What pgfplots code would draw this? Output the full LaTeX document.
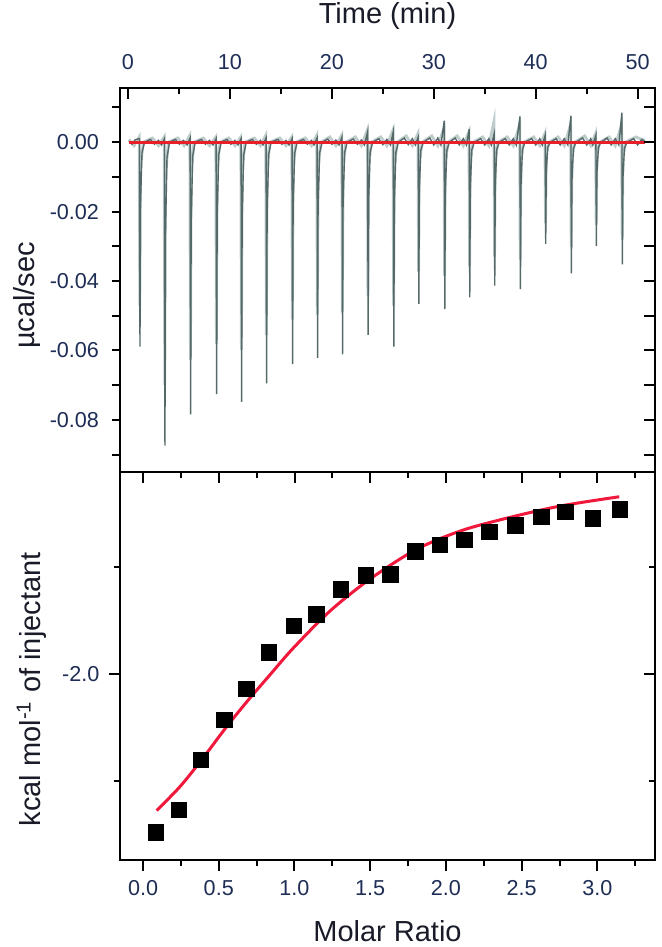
\documentclass[border=0pt]{standalone}
\usepackage{fontspec}
\setmainfont{Liberation Sans}
\usepackage{pgfplots}
\pgfplotsset{compat=1.18}
\definecolor{tickcol}{RGB}{30,45,85}
\definecolor{labcol}{RGB}{25,28,40}
\definecolor{darktrace}{RGB}{85,105,105}
\definecolor{lighttrace}{RGB}{190,204,204}
\definecolor{redbase}{RGB}{232,30,40}
\definecolor{fitred}{RGB}{240,25,60}
\pgfplotsset{
  common/.style={
    width=267.5pt, scale only axis,
    scaled ticks=false,
    axis line style={line width=1pt, black},
    every tick/.style={line width=1pt, black},
    tick label style={font=\fontsize{10.8}{12}\selectfont, color=tickcol},
    label style={font=\fontsize{14.5}{17}\selectfont, color=labcol},
    /pgf/number format/assume math mode=true,
  },
}
\begin{document}
\begin{tikzpicture}
\useasboundingbox (-60pt,-237.5pt) rectangle (270.5pt,236pt);
% ---------- top panel: thermogram ----------
\begin{axis}[common, at={(0,0)}, anchor=south west, height=192pt,
  xmin=-0.78, xmax=51.7, ymin=-0.095, ymax=0.0156,
  xtick=\empty,
  ytick={-0.09,-0.08,-0.07,-0.06,-0.05,-0.04,-0.03,-0.02,-0.01,0,0.01},
  yticklabels={,-0.08,,-0.06,,-0.04,,-0.02,,0.00,},
  ytick pos=left, tick align=outside, major tick length=4pt,
  yticklabel style={anchor=east, inner sep=0pt, xshift=-6.3pt},
  ylabel={µcal/sec},
  ylabel style={at={(axis description cs:-0.1589,0.4596)}, anchor=base},
  clip=true]
\addplot[lighttrace, line width=1.4pt] coordinates {
(0.1,0.0008)(0.6,-0.0010)
(1.10,0.0015)(1.16,-0.0471)(1.24,-0.0071)(1.50,0)(2.4,0.0012)(3.0,-0.0010)
(3.55,0.0015)(3.61,-0.0699)(3.69,-0.0105)(3.95,0)(4.9,0.0012)(5.5,-0.0010)
(6.07,0.0020)(6.13,-0.0627)(6.21,-0.0094)(6.47,0)(7.4,0.0012)(8.0,-0.0010)
(8.62,0.0015)(8.68,-0.0581)(8.76,-0.0087)(9.02,0)(9.9,0.0012)(10.5,-0.0010)
(11.07,0.0015)(11.13,-0.0598)(11.21,-0.0090)(11.47,0)(12.4,0.0012)(13.0,-0.0010)
(13.52,0.0020)(13.58,-0.0556)(13.66,-0.0083)(13.92,0)(14.9,0.0012)(15.5,-0.0010)
(16.07,0.0015)(16.13,-0.0511)(16.21,-0.0077)(16.47,0)(17.4,0.0012)(18.0,-0.0010)
(18.52,0.0020)(18.58,-0.0497)(18.66,-0.0075)(18.92,0)(19.8,0.0015)(20.4,-0.0010)
(20.97,0.0020)(21.03,-0.0489)(21.11,-0.0073)(21.37,0)(22.3,0.0015)(22.9,-0.0010)
(23.48,0.0035)(23.54,-0.0444)(23.62,-0.0067)(23.88,0)(24.8,0.0015)(25.4,-0.0010)
(26.00,0.0035)(26.06,-0.0471)(26.14,-0.0071)(26.40,0)(27.3,0.0018)(27.9,-0.0010)
(28.45,0.0025)(28.51,-0.0373)(28.59,-0.0056)(28.85,0)(29.8,0.0018)(30.4,-0.0010)
(31.00,0.0040)(31.06,-0.0385)(31.14,-0.0058)(31.40,0)(32.3,0.0018)(32.9,-0.0010)
(33.45,0.0030)(33.51,-0.0358)(33.59,-0.0054)(33.85,0)(34.8,0.0015)(35.4,-0.0010)
(35.90,0.0060)(35.96,-0.0330)(36.04,-0.0050)(36.30,0)(37.2,0.0015)(37.8,-0.0010)
(38.42,0.0050)(38.48,-0.0338)(38.56,-0.0051)(38.82,0)(39.8,0.0015)(40.4,-0.0010)
(40.90,0.0025)(40.96,-0.0234)(41.04,-0.0035)(41.30,0)(42.2,0.0015)(42.8,-0.0010)
(43.42,0.0050)(43.48,-0.0302)(43.56,-0.0045)(43.82,0)(44.8,0.0018)(45.4,-0.0010)
(45.87,0.0025)(45.93,-0.0239)(46.01,-0.0036)(46.27,0)(47.2,0.0015)(47.8,-0.0010)
(48.42,0.0050)(48.48,-0.0282)(48.56,-0.0042)(48.82,0)(49.8,0.0015)(50.7,0.0005)
};
\addplot[darktrace, line width=0.7pt] coordinates {
(0.1,0.0003)(0.4,-0.0006)(0.7,0.0007)
(1.13,0.0010)(1.18,-0.0589)(1.23,-0.0177)(1.38,-0.0030)(1.63,0)(2.2,0.0008)(2.6,-0.0006)(3.0,0.0005)(3.3,-0.0008)
(3.58,0.0010)(3.63,-0.0874)(3.68,-0.0262)(3.83,-0.0045)(4.08,0)(4.65,0.0008)(5.05,-0.0006)(5.45,0.0005)(5.8,-0.0008)
(6.10,0.0012)(6.15,-0.0784)(6.20,-0.0235)(6.35,-0.0040)(6.60,0)(7.2,0.0008)(7.6,-0.0006)(8.0,0.0005)(8.35,-0.0008)
(8.65,0.0010)(8.70,-0.0726)(8.75,-0.0218)(8.90,-0.0036)(9.15,0)(9.7,0.0008)(10.1,-0.0006)(10.5,0.0005)(10.8,-0.0008)
(11.10,0.0010)(11.15,-0.0748)(11.20,-0.0224)(11.35,-0.0037)(11.60,0)(12.2,0.0008)(12.6,-0.0006)(13.0,0.0005)(13.25,-0.0008)
(13.55,0.0012)(13.60,-0.0695)(13.65,-0.0209)(13.80,-0.0035)(14.05,0)(14.7,0.0008)(15.1,-0.0006)(15.5,0.0005)(15.8,-0.0008)
(16.10,0.0010)(16.15,-0.0639)(16.20,-0.0192)(16.35,-0.0032)(16.60,0)(17.2,0.0008)(17.6,-0.0006)(18.0,0.0005)(18.25,-0.0008)
(18.55,0.0012)(18.60,-0.0621)(18.65,-0.0186)(18.80,-0.0031)(19.05,0)(19.6,0.0009)(20.0,-0.0006)(20.4,0.0006)(20.7,-0.0008)
(21.00,0.0015)(21.05,-0.0611)(21.10,-0.0183)(21.25,-0.0031)(21.50,0)(22.1,0.0009)(22.5,-0.0006)(22.9,0.0006)(23.2,-0.0008)
(23.51,0.0030)(23.56,-0.0555)(23.61,-0.0167)(23.76,-0.0028)(24.01,0)(24.6,0.0010)(25.0,-0.0007)(25.4,0.0008)(25.75,-0.0008)
(26.03,0.0030)(26.08,-0.0589)(26.13,-0.0177)(26.28,-0.0030)(26.53,0)(27.1,0.0012)(27.5,-0.0007)(27.9,0.0010)(28.2,-0.0008)
(28.48,0.0015)(28.53,-0.0466)(28.58,-0.0140)(28.73,-0.0023)(28.98,0)(29.6,0.0012)(30.0,-0.0008)(30.4,0.0012)(30.7,-0.0008)
(31.03,0.0062)(31.08,-0.0481)(31.13,-0.0144)(31.28,-0.0024)(31.53,0)(32.1,0.0012)(32.5,-0.0008)(32.9,0.0010)(33.2,-0.0008)
(33.48,0.0038)(33.53,-0.0447)(33.58,-0.0134)(33.73,-0.0022)(33.98,0)(34.6,0.0010)(35.0,-0.0008)(35.4,0.0010)(35.65,-0.0008)
(35.93,0.0025)(35.98,-0.0413)(36.03,-0.0124)(36.18,-0.0021)(36.43,0)(37.0,0.0010)(37.4,-0.0008)(37.8,0.0010)(38.1,-0.0008)
(38.45,0.0074)(38.50,-0.0423)(38.55,-0.0127)(38.70,-0.0021)(38.95,0)(39.6,0.0010)(40.0,-0.0008)(40.4,0.0010)(40.65,-0.0008)
(40.93,0.0020)(40.98,-0.0293)(41.03,-0.0088)(41.18,-0.0015)(41.43,0)(42.0,0.0010)(42.4,-0.0008)(42.8,0.0010)(43.15,-0.0008)
(43.45,0.0076)(43.50,-0.0378)(43.55,-0.0113)(43.70,-0.0019)(43.95,0)(44.6,0.0012)(45.0,-0.0008)(45.4,0.0010)(45.6,-0.0008)
(45.90,0.0020)(45.95,-0.0299)(46.00,-0.0090)(46.15,-0.0015)(46.40,0)(47.0,0.0012)(47.4,-0.0008)(47.8,0.0010)(48.15,-0.0008)
(48.45,0.0085)(48.50,-0.0352)(48.55,-0.0106)(48.70,-0.0018)(48.95,0)(49.6,0.0010)(50.0,-0.0008)(50.4,0.0008)(50.7,0.0002)
};
\addplot[redbase, line width=1.6pt] coordinates {(0.1,0) (50.7,0)};
\end{axis}
\begin{axis}[common, at={(0,0)}, anchor=south west, height=192pt,
  xmin=-0.78, xmax=51.7, ymin=-0.095, ymax=0.0156,
  xtick={0,10,20,30,40,50}, minor xtick={5,15,25,35,45},
  xticklabels={0,10,20,30,40,50},
  xtick pos=right, xticklabel pos=right,
  xticklabel style={anchor=base, yshift=9pt},
  ytick={-0.09,-0.08,-0.07,-0.06,-0.05,-0.04,-0.03,-0.02,-0.01,0,0.01},
  yticklabels={}, ytick pos=right,
  tick align=inside, major tick length=5.5pt, minor tick length=3pt,
  xlabel={Time (min)},
  xlabel style={at={(axis description cs:0.5,1)}, anchor=base, yshift=32pt}]
\end{axis}
% ---------- bottom panel ----------
\begin{axis}[common, at={(0,0)}, anchor=north west, height=194pt,
  xmin=-0.152, xmax=3.38, ymin=-2.872, ymax=-1.053,
  xtick={0,0.5,1,1.5,2,2.5,3}, minor xtick={0.25,0.75,1.25,1.75,2.25,2.75,3.25},
  xticklabels={0.0,0.5,1.0,1.5,2.0,2.5,3.0},
  ytick={-2}, minor ytick={-2.5,-1.5}, yticklabels={-2.0},
  xtick pos=left, ytick pos=left,
  tick align=outside, major tick length=5.5pt, minor tick length=3pt,
  xticklabel style={anchor=base, yshift=-12pt},
  yticklabel style={anchor=east, inner sep=0pt, xshift=-4.6pt},
  xlabel={Molar Ratio},
  xlabel style={at={(axis description cs:0.5,0)}, anchor=base, yshift=-40.9pt},
  ylabel={kcal mol\textsuperscript{-1} of injectant},
  ylabel style={at={(axis description cs:-0.1477,0.44)}, anchor=base},
  clip=false]
\addplot[only marks, mark=square*, mark size=3.9pt, black] coordinates {
(0.084,-2.742)(0.236,-2.637)(0.383,-2.403)(0.537,-2.216)(0.684,-2.069)
(0.832,-1.900)(0.995,-1.774)(1.144,-1.720)(1.307,-1.603)(1.472,-1.539)
(1.635,-1.533)(1.800,-1.424)(1.960,-1.395)(2.123,-1.372)(2.286,-1.333)
(2.457,-1.302)(2.629,-1.263)(2.790,-1.240)(2.970,-1.270)(3.148,-1.227)
};
\addplot[fitred, line width=1.5pt, smooth] coordinates {
(0.09,-2.640)(0.244,-2.528)(0.383,-2.406)(0.552,-2.247)(0.695,-2.122)
(0.838,-2.004)(0.990,-1.880)(1.234,-1.705)(1.498,-1.555)(1.807,-1.415)
(2.114,-1.325)(2.467,-1.258)(2.774,-1.210)(3.144,-1.169)
};
\end{axis}
\begin{axis}[common, at={(0,0)}, anchor=north west, height=194pt,
  xmin=-0.152, xmax=3.38, ymin=-2.872, ymax=-1.053,
  xtick={0,0.5,1,1.5,2,2.5,3}, minor xtick={0.25,0.75,1.25,1.75,2.25,2.75,3.25},
  xticklabels={}, yticklabels={},
  ytick={-2}, minor ytick={-2.5,-1.5},
  xtick pos=right, ytick pos=right,
  tick align=inside, major tick length=5.5pt, minor tick length=3pt]
\end{axis}
\end{tikzpicture}
\end{document}
